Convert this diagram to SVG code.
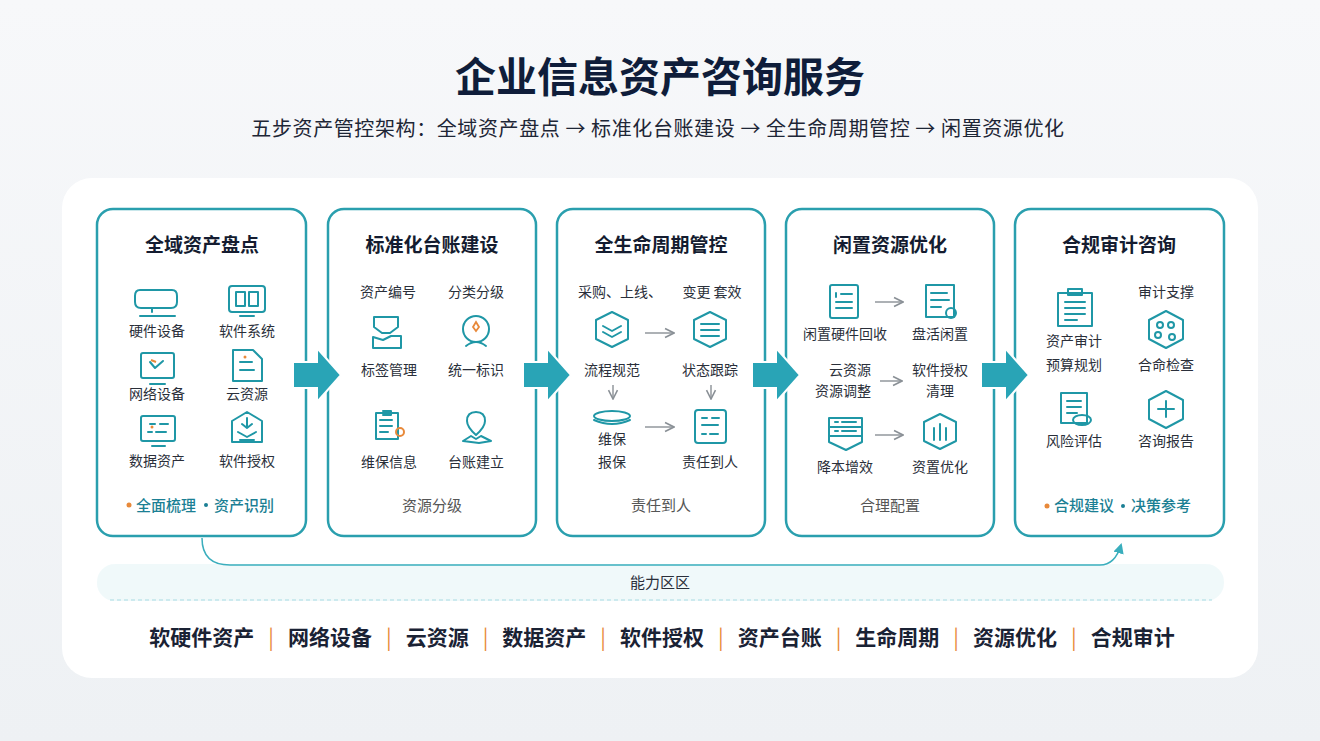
<svg xmlns="http://www.w3.org/2000/svg" width="1320" height="741" viewBox="0 0 1320 741">
<defs>
<style>
text{font-family:"Noto Sans CJK SC","Noto Sans",sans-serif;}
.t{font-size:41px;font-weight:700;fill:#0f1d3a;text-anchor:middle}
.sub{font-size:20px;fill:#1e2636;text-anchor:middle;letter-spacing:0.6px}
.panel{fill:#fff;stroke:#2a9fae;stroke-width:2.5}
.pt{font-size:19px;font-weight:700;fill:#141c30;text-anchor:middle}
.lb{font-size:14px;fill:#2a2f3a;text-anchor:middle}
.ft{font-size:15px;fill:#555;text-anchor:middle}
.ftb{font-size:15px;fill:#1b7f94;text-anchor:middle;font-weight:500}
.ic{fill:none;stroke:#1f97a6;stroke-width:2;stroke-linejoin:round;stroke-linecap:round}
.ga{fill:none;stroke:#8a9096;stroke-width:1.4}
.bt{font-size:21px;font-weight:700;fill:#1a2234}
.sep{font-size:21px;fill:#e8893a}
</style>
<marker id="ah" viewBox="0 0 10 10" refX="9" refY="5" markerWidth="8" markerHeight="8" orient="auto"><path d="M1 1 L9 5 L1 9" fill="none" stroke="#8a9096" stroke-width="1.4"/></marker>
<marker id="ah2" viewBox="0 0 10 10" refX="8" refY="5" markerWidth="7" markerHeight="7" orient="auto"><path d="M0 0 L10 5 L0 10 Z" fill="#3aaebd"/></marker>
<linearGradient id="bg" x1="0" y1="0" x2="0" y2="1"><stop offset="0" stop-color="#f7f8fa"/><stop offset="1" stop-color="#eef1f4"/></linearGradient>
</defs>
<rect width="1320" height="741" fill="url(#bg)"/>
<rect x="62" y="178" width="1196" height="500" rx="30" fill="#fff"/>
<text class="t" x="660" y="92">企业信息资产咨询服务</text>
<text class="sub" x="658" y="136">五步资产管控架构：全域资产盘点 → 标准化台账建设 → 全生命周期管控 → 闲置资源优化</text>

<g id="band">
<rect x="97" y="564" width="1127" height="37" rx="18" fill="#eef8fa" opacity="0.9"/>
<line x1="110" y1="600" x2="1212" y2="600" stroke="#a9dbe3" stroke-dasharray="4 3"/>
<text x="660" y="588" class="lb" style="font-size:15px">能力区区</text>
</g>

<g id="panel1">
<rect class="panel" x="97" y="209" width="209" height="327" rx="16"/>
<text class="pt" x="202" y="252">全域资产盘点</text>
<path class="ic" d="M140 290 h32 q5 0 5 6 v6 q0 6-6 6 h-30 q-6 0-6-6 v-6 q0-6 5-6z M152 308 v4 M140 316 h35"/>
<rect class="ic" x="229" y="286" width="36" height="26" rx="3"/><path class="ic" d="M236 292 h9 v14 h-9z M249 292 h9 v14 h-9z M240 316 h14"/>
<text class="lb" x="157" y="336">硬件设备</text><text class="lb" x="247" y="336">软件系统</text>
<rect class="ic" x="141" y="353" width="33" height="25" rx="2"/><path class="ic" d="M150 362 l5 6 l8-7 M150 384 h15"/><path d="M151 360 l5 2" stroke="#e8893a" stroke-width="2"/>
<path class="ic" d="M233 350 h20 l9 9 v22 h-29z M240 362 h12 M240 370 h14"/><circle cx="245" cy="357" r="1.5" fill="#e8893a"/>
<text class="lb" x="157" y="399">网络设备</text><text class="lb" x="247" y="399">云资源</text>
<rect class="ic" x="141" y="416" width="34" height="25" rx="2"/><path class="ic" d="M150 424 h5 M160 424 h8 M148 432 h4 M156 432 h10 M152 446 h13"/><circle cx="152" cy="427" r="1.5" fill="#e8893a"/>
<path class="ic" d="M232 421 l15-9 l15 9 v21 h-30z M247 418 v10 l-5-4 M247 428 l5-4 M238 432 l9 5 l9-5 M240 440 h14"/>
<text class="lb" x="157" y="466">数据资产</text><text class="lb" x="247" y="466">软件授权</text>
<circle cx="129" cy="505" r="2.5" fill="#e8893a"/><text class="ftb" x="166" y="511">全面梳理</text>
<circle cx="206" cy="505" r="2" fill="#1b7f94"/><text class="ftb" x="244" y="511">资产识别</text>
</g>

<g id="panel2">
<rect class="panel" x="328" y="209" width="208" height="327" rx="16"/>
<text class="pt" x="432" y="252">标准化台账建设</text>
<text class="lb" x="388" y="297">资产编号</text><text class="lb" x="476" y="297">分类分级</text>
<path class="ic" d="M374 317 h24 v10 l-8 6 h-8 l-8-6z M373 337 l10 3 l8-4 l10 0 v12 h-28z"/>
<circle class="ic" cx="476" cy="329" r="13"/><path class="ic" d="M466 346 q10-8 20 0"/><path d="M476 322 l3 5 l-3 4 l-3-4z" fill="none" stroke="#e8893a" stroke-width="1.8"/>
<text class="lb" x="389" y="375">标签管理</text><text class="lb" x="476" y="375">统一标识</text>
<path class="ic" d="M376 413 h22 v26 h-22z M383 411 h8 v4 h-8 M380 420 h12 M380 426 h12 M380 432 h8"/><circle cx="400" cy="432" r="4" fill="none" stroke="#e8893a" stroke-width="2"/>
<path class="ic" d="M476 412 q9 0 9 9 q0 6-9 14 q-9-8-9-14 q0-9 9-9z M463 441 l8-5 l5 3 l5-3 l10 5 l-12 2z"/>
<text class="lb" x="389" y="467">维保信息</text><text class="lb" x="476" y="467">台账建立</text>
<text class="ft" x="432" y="511">资源分级</text>
</g>

<g id="panel3">
<rect class="panel" x="557" y="209" width="208" height="327" rx="16"/>
<text class="pt" x="661" y="252">全生命周期管控</text>
<text class="lb" x="620" y="297">采购、上线、</text><text class="lb" x="712" y="297">变更 套效</text>
<path class="ic" d="M612 312 l16 8 v19 l-16 8 l-16-8 v-19z M603 326 l9 5 l9-5 M603 332 l9 5 l9-5"/>
<path class="ic" d="M710 312 l16 8 v19 l-16 8 l-16-8 v-19z M701 324 h18 M701 330 h18 M701 336 h18"/>
<line class="ga" x1="645" y1="333" x2="674" y2="333" marker-end="url(#ah)"/>
<text class="lb" x="612" y="375">流程规范</text><text class="lb" x="710" y="375">状态跟踪</text>
<line class="ga" x1="613" y1="385" x2="613" y2="399" marker-end="url(#ah)"/><line class="ga" x1="711" y1="385" x2="711" y2="399" marker-end="url(#ah)"/>
<ellipse class="ic" cx="612" cy="416" rx="18" ry="5"/><path class="ic" d="M594 420 q18 8 36 0"/>
<rect class="ic" x="695" y="410" width="31" height="33" rx="3"/><path class="ic" d="M702 418 h5 M712 418 h7 M702 425 h16 M702 434 h4 M710 434 h8"/>
<line class="ga" x1="645" y1="427" x2="674" y2="427" marker-end="url(#ah)"/>
<text class="lb" x="612" y="444">维保</text><text class="lb" x="612" y="467">报保</text><text class="lb" x="710" y="467">责任到人</text>
<text class="ft" x="661" y="511">责任到人</text>
</g>

<g id="panel4">
<rect class="panel" x="786" y="209" width="208" height="327" rx="16"/>
<text class="pt" x="890" y="252">闲置资源优化</text>
<rect class="ic" x="830" y="285" width="28" height="33" rx="2"/><path class="ic" d="M836 293 v4 M841 294 h11 M836 302 h16 M836 308 h16"/>
<path class="ic" d="M926 285 h28 v32 h-28z M931 293 h16 M931 300 h18 M931 307 h10"/><circle class="ic" cx="951" cy="313" r="5"/>
<line class="ga" x1="875" y1="302" x2="903" y2="302" marker-end="url(#ah)"/>
<text class="lb" x="845" y="339">闲置硬件回收</text><text class="lb" x="940" y="339">盘活闲置</text>
<text class="lb" x="850" y="375">云资源</text><text class="lb" x="843" y="396">资源调整</text>
<line class="ga" x1="880" y1="381" x2="902" y2="381" marker-end="url(#ah)"/>
<text class="lb" x="940" y="375">软件授权</text><text class="lb" x="940" y="396">清理</text>
<path class="ic" d="M829 418 h33 v9 h-33z M829 427 h33 v9 h-33z M829 436 h33 v6 l-16 8 l-17-8z M835 422 h3 M842 422 h14 M835 431 h3 M842 431 h14"/>
<path class="ic" d="M940 414 l16 8 v19 l-16 8 l-16-8 v-19z M934 428 v12 M940 424 v16 M946 428 v12"/>
<line class="ga" x1="875" y1="435" x2="903" y2="435" marker-end="url(#ah)"/>
<text class="lb" x="845" y="472">降本增效</text><text class="lb" x="940" y="472">资置优化</text>
<text class="ft" x="890" y="511">合理配置</text>
</g>

<g id="panel5">
<rect class="panel" x="1015" y="209" width="209" height="327" rx="16"/>
<text class="pt" x="1119" y="252">合规审计咨询</text>
<text class="lb" x="1166" y="297">审计支撑</text>
<path class="ic" d="M1058 293 h34 v33 h-34z M1068 289 h14 v6 h-14z M1065 302 h20 M1065 308 h20 M1065 314 h20 M1065 320 h12"/>
<path class="ic" d="M1166 311 l17 9 v19 l-17 9 l-17-9 v-19z"/><circle class="ic" cx="1160" cy="325" r="3"/><circle class="ic" cx="1171" cy="325" r="3"/><circle class="ic" cx="1158" cy="335" r="3"/><circle class="ic" cx="1172" cy="337" r="3"/>
<text class="lb" x="1074" y="346">资产审计</text><text class="lb" x="1074" y="370">预算规划</text><text class="lb" x="1166" y="370">合命检查</text>
<path class="ic" d="M1061 393 h26 v30 h-26z M1067 401 h14 M1067 407 h14 M1067 413 h10"/><ellipse class="ic" cx="1082" cy="420" rx="9" ry="5"/>
<path class="ic" d="M1166 391 l17 9 v19 l-17 9 l-17-9 v-19z M1166 401 v16 M1158 409 h16"/>
<text class="lb" x="1074" y="446">风险评估</text><text class="lb" x="1166" y="446">咨询报告</text>
<circle cx="1047" cy="506" r="2.5" fill="#e8893a"/><text class="ftb" x="1084" y="511">合规建议</text>
<circle cx="1123" cy="506" r="2" fill="#1b7f94"/><text class="ftb" x="1161" y="511">决策参考</text>
</g>

<g id="connectors">
<path d="M293 362 h24 v-14 l24 27 l-24 27 v-14 h-24 z" fill="#29a4b6" stroke="#fff" stroke-width="2"/>
<path d="M523 362 h24 v-14 l24 27 l-24 27 v-14 h-24 z" fill="#29a4b6" stroke="#fff" stroke-width="2"/>
<path d="M752 362 h24 v-14 l24 27 l-24 27 v-14 h-24 z" fill="#29a4b6" stroke="#fff" stroke-width="2"/>
<path d="M981 362 h24 v-14 l24 27 l-24 27 v-14 h-24 z" fill="#29a4b6" stroke="#fff" stroke-width="2"/>
<path d="M202 538 Q202 565 230 565 L1100 565 Q1115 565 1121 545" fill="none" stroke="#3aaebd" stroke-width="1.5" marker-end="url(#ah2)"/>
</g>

<g id="bottom">
<text x="662" y="645" text-anchor="middle"><tspan class="bt">软硬件资产</tspan><tspan class="sep" dx="14">|</tspan><tspan class="bt" dx="14">网络设备</tspan><tspan class="sep" dx="14">|</tspan><tspan class="bt" dx="14">云资源</tspan><tspan class="sep" dx="14">|</tspan><tspan class="bt" dx="14">数据资产</tspan><tspan class="sep" dx="14">|</tspan><tspan class="bt" dx="14">软件授权</tspan><tspan class="sep" dx="14">|</tspan><tspan class="bt" dx="14">资产台账</tspan><tspan class="sep" dx="14">|</tspan><tspan class="bt" dx="14">生命周期</tspan><tspan class="sep" dx="14">|</tspan><tspan class="bt" dx="14">资源优化</tspan><tspan class="sep" dx="14">|</tspan><tspan class="bt" dx="14">合规审计</tspan></text>
</g>
</svg>
